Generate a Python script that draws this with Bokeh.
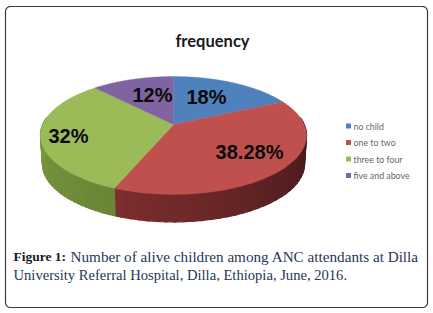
import numpy as np
from bokeh.plotting import figure
from bokeh.embed import file_html
from bokeh.resources import INLINE
from bokeh.core.properties import value

# ---- data ----
categories = ["no child", "one to two", "three to four", "five and above"]
percents = [18, 38.28, 32, 12]
slice_labels = ["18%", "38.28%", "32%", "12%"]
title_text = "frequency"
caption_bold = "Figure 1:"
caption_line1 = "Number of alive children among ANC attendants at Dilla"
caption_line2 = "University Referral Hospital, Dilla, Ethiopia, June, 2016."

top_colors = ["#4F81BD", "#C0504D", "#9BBB59", "#8064A2"]
side_start = [(60, 90, 140), (125, 46, 46), (125, 155, 65), (90, 70, 115)]
side_end = [(60, 90, 140), (60, 22, 26), (105, 135, 55), (90, 70, 115)]

W, H = 433, 313
p = figure(width=W, height=H, x_range=(0, W), y_range=(H, 0),
           output_backend="svg", toolbar_location=None, min_border=0,
           margin=(0, 0, 0, 0), background_fill_color="white",
           border_fill_color="white", outline_line_color=None)
p.axis.visible = False
p.grid.visible = False

# Perspective projection of a circular pie
CX, CY = 173.0, 124.0
A, B, K = 130.7, 56.9, 0.186
DEPTH, SHRINK = 28.5, 0.985


def project(theta, lower=False):
    u, v = np.sin(theta), np.cos(theta)
    d = 1 + K * v
    x, y = A * u / d, -B * v / d
    if lower:
        return CX + SHRINK * x, CY + SHRINK * y + DEPTH
    return CX + x, CY + y


# Frame
fx0, fy0, fx1, fy1, r = 5.0, 6.0, 427.0, 307.0, 5.0
t = np.linspace(0, np.pi / 2, 8)
fx = np.r_[fx1 - r + r * np.sin(t), fx1 - r + r * np.cos(t), fx0 + r - r * np.sin(t), fx0 + r - r * np.cos(t)]
fy = np.r_[fy0 + r - r * np.cos(t), fy1 - r + r * np.sin(t), fy1 - r + r * np.cos(t), fy0 + r - r * np.sin(t)]
p.patch(fx, fy, fill_color="white", line_color="#3c3c3c", line_width=1.2)

# Angle boundaries from the values
total = sum(percents)
bounds = np.r_[0, np.cumsum(percents)] / total * 2 * np.pi

# Sides, front half only
for i in range(len(percents)):
    a0, a1 = max(bounds[i], np.pi / 2 - 0.12), min(bounds[i + 1], 3 * np.pi / 2 + 0.12)
    if a1 <= a0:
        continue
    n = 36
    edges = np.linspace(a0, a1, n + 1)
    for j in range(n):
        f = j / (n - 1)
        c = [int(s + (e - s) * (1 - f)) for s, e in zip(side_start[i], side_end[i])]
        col = "#%02x%02x%02x" % tuple(c)
        th = np.linspace(edges[j], edges[j + 1] + 0.02, 3)
        xa, ya = project(th)
        xb, yb = project(th[::-1], lower=True)
        p.patch(np.r_[xa, xb], np.r_[ya, yb], fill_color=col, line_color=col, line_width=1.2)

# Top faces
for i, c in enumerate(top_colors):
    th = np.linspace(bounds[i], bounds[i + 1], 80)
    x, y = project(th)
    p.patch(np.r_[CX, x], np.r_[CY, y], fill_color=c, line_color=c, line_width=0.4)

# Slice labels
label_x = [206, 249, 68, 152]
label_y = [96, 151, 135, 94]
p.text(label_x, label_y, text=slice_labels, text_font=value("Liberation Sans"),
       text_font_style="bold", text_font_size="20px", text_align="center",
       text_baseline="middle", text_color="#0a0a0a")

# Title
p.text([212], [40], text=[title_text], text_font=value("Lato"), text_font_style="bold",
       text_font_size="16.5px", text_align="center", text_baseline="middle", text_color="#1a1a1a")

# Legend
leg_y = [125.5, 142, 158.5, 175]
p.rect([348] * 4, leg_y, width=5, height=5, fill_color=top_colors, line_color=None)
p.text([353] * 4, leg_y, text=categories, text_font=value("Lato"), text_font_size="8.8px",
       text_align="left", text_baseline="middle", text_color="#666666")

# Caption
p.text([13], [256], text=[caption_bold], text_font=value("Liberation Serif"), text_font_style="bold",
       text_font_size="13.5px", text_baseline="middle", text_color="#1a1a1a")
p.text([70], [256], text=[caption_line1], text_font=value("Liberation Serif"),
       text_font_size="15.2px", text_baseline="middle", text_color="#26365a")
p.text([13], [274], text=[caption_line2], text_font=value("Liberation Serif"),
       text_font_size="14.6px", text_baseline="middle", text_color="#26365a")

open("out.html", "w").write(file_html(p, INLINE))
